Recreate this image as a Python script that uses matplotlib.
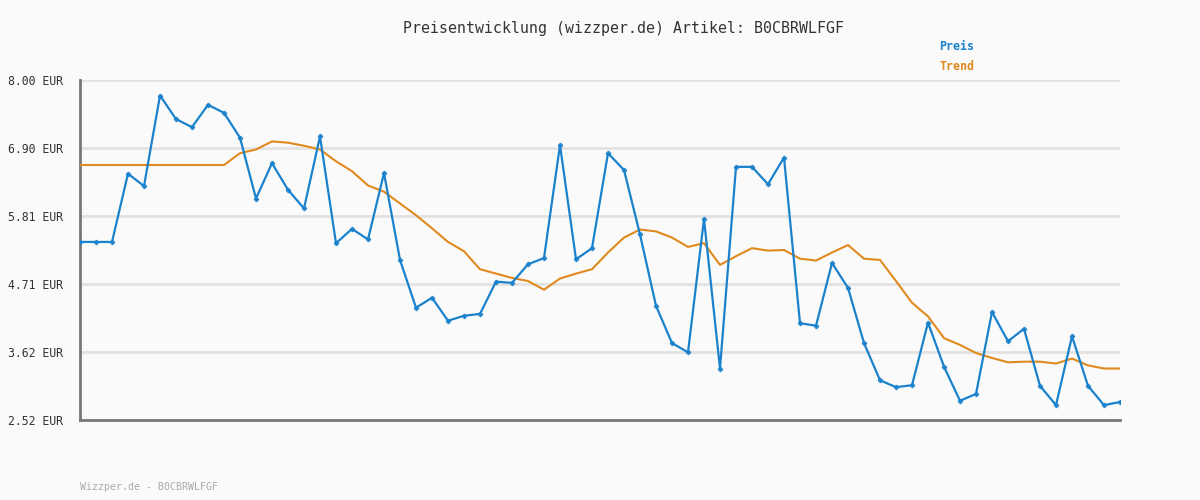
import matplotlib
matplotlib.use("Agg")
import matplotlib.pyplot as plt
from matplotlib.ticker import FixedLocator, FuncFormatter

title = "Preisentwicklung (wizzper.de) Artikel: B0CBRWLFGF"
footer = "Wizzper.de - B0CBRWLFGF"
series_names = ["Preis", "Trend"]

preis = [5.39, 5.39, 5.39, 6.49, 6.29, 7.75, 7.37, 7.24, 7.60, 7.47,
         7.07, 6.09, 6.66, 6.23, 5.93, 7.09, 5.37, 5.60, 5.43, 6.50,
         5.10, 4.33, 4.49, 4.12, 4.20, 4.23, 4.75, 4.73, 5.03, 5.13,
         6.95, 5.11, 5.29, 6.82, 6.55, 5.51, 4.36, 3.76, 3.61, 5.76,
         3.35, 6.60, 6.60, 6.32, 6.75, 4.08, 4.04, 5.05, 4.65, 3.76,
         3.16, 3.05, 3.08, 4.09, 3.38, 2.83, 2.94, 4.26, 3.79, 3.99,
         3.07, 2.76, 3.87, 3.07, 2.76, 2.81]

trend = [6.63, 6.63, 6.63, 6.63, 6.63, 6.63, 6.63, 6.63, 6.63, 6.63,
         6.82, 6.88, 7.01, 6.99, 6.94, 6.88, 6.69, 6.53, 6.30, 6.20,
         6.01, 5.82, 5.61, 5.39, 5.24, 4.95, 4.88, 4.81, 4.76, 4.62,
         4.80, 4.88, 4.95, 5.22, 5.46, 5.59, 5.56, 5.46, 5.31, 5.37,
         5.02, 5.16, 5.29, 5.25, 5.26, 5.12, 5.09, 5.22, 5.34, 5.12,
         5.10, 4.76, 4.41, 4.19, 3.84, 3.73, 3.60, 3.52, 3.45, 3.46,
         3.46, 3.43, 3.51, 3.40, 3.35, 3.35]

y_ticks = [2.52, 3.62, 4.71, 5.81, 6.90, 8.00]

bg = "#fafafa"
blue = "#1a82cc"
orange = "#e08a1e"
mono = "DejaVu Sans Mono"

fig = plt.figure(figsize=(12, 5), dpi=100, facecolor=bg)
ax = fig.add_axes([80/1200, 80/500, 1040/1200, 340/500], facecolor=bg)

x = list(range(len(preis)))
ax.plot(x, trend, color=orange, lw=1.5, zorder=3)
ax.plot(x, preis, color=blue, lw=1.6, marker="P", ms=3.5, mew=0.3,
        mfc=blue, mec=blue, zorder=4)

ax.set_xlim(0, len(preis) - 1)
ax.set_ylim(y_ticks[0], y_ticks[-1])
ax.yaxis.set_major_locator(FixedLocator(y_ticks))
ax.yaxis.set_major_formatter(FuncFormatter(lambda v, p: f"{v:.2f} EUR"))
ax.set_xticks([])
ax.grid(axis="y", color="#e2e2e2", lw=2, zorder=0)
ax.set_axisbelow(True)
for s in ["top", "right"]:
    ax.spines[s].set_visible(False)
for s in ["left", "bottom"]:
    ax.spines[s].set_color("#777777")
    ax.spines[s].set_linewidth(2)
ax.tick_params(axis="y", length=0, pad=12, labelsize=8.3, labelcolor="#333333")
for lab in ax.get_yticklabels():
    lab.set_fontfamily(mono)

fig.text(623.5/1200, 1 - 28/500, title, ha="center", va="center",
         fontsize=10.7, family=mono, color="#333333")
fig.text(939/1200, 1 - 47/500, series_names[0], ha="left", va="center",
         fontsize=8.4, family=mono, fontweight="bold", color=blue)
fig.text(939/1200, 1 - 67/500, series_names[1], ha="left", va="center",
         fontsize=8.4, family=mono, fontweight="bold", color=orange)
fig.text(80/1200, 1 - 487/500, footer, ha="left", va="center",
         fontsize=7.1, family=mono, color="#aaaaaa")

fig.savefig("out.png", dpi=100, facecolor=bg)
